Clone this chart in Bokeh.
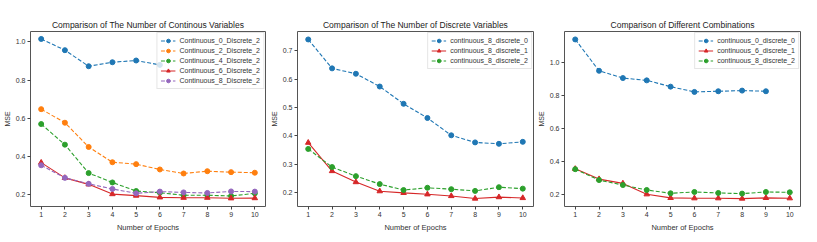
from bokeh.plotting import figure
from bokeh.layouts import row
from bokeh.models import Range1d, FixedTicker, NumeralTickFormatter
from bokeh.embed import file_html
from bokeh.resources import INLINE

epochs = [1, 2, 3, 4, 5, 6, 7, 8, 9, 10]

# Panel 1: continuous variables
p1_title = "Comparison of The Number of Continous Variables"
c0_d2 = [1.016, 0.957, 0.873, 0.894, 0.903, 0.880]
c2_d2 = [0.648, 0.577, 0.450, 0.370, 0.360, 0.332, 0.311, 0.323, 0.318, 0.315]
c4_d2 = [0.570, 0.462, 0.313, 0.264, 0.219, 0.210, 0.197, 0.197, 0.193, 0.207]
c6_d2 = [0.368, 0.288, 0.254, 0.203, 0.195, 0.186, 0.184, 0.184, 0.181, 0.182]
c8_d2 = [0.354, 0.288, 0.257, 0.230, 0.207, 0.216, 0.212, 0.209, 0.217, 0.216]

# Panel 2: discrete variables
p2_title = "Comparison of The Number of Discrete Variables"
c8_d0 = [0.740, 0.638, 0.619, 0.574, 0.513, 0.463, 0.402, 0.377, 0.372, 0.379]
c8_d1 = [0.376, 0.276, 0.237, 0.205, 0.199, 0.194, 0.188, 0.179, 0.184, 0.181]
c8_d2b = [0.354, 0.290, 0.258, 0.230, 0.209, 0.217, 0.212, 0.206, 0.219, 0.214]

# Panel 3: combinations
p3_title = "Comparison of Different Combinations"
c0_d0 = [1.140, 0.950, 0.906, 0.892, 0.854, 0.822, 0.826, 0.830, 0.826]
c6_d1 = [0.356, 0.294, 0.268, 0.202, 0.180, 0.178, 0.178, 0.176, 0.180, 0.178]
c8_d2c = [0.354, 0.288, 0.258, 0.228, 0.208, 0.216, 0.210, 0.206, 0.216, 0.214]

y_ticks1 = [0.2, 0.4, 0.6, 0.8, 1.0]
y_ticks2 = [0.2, 0.3, 0.4, 0.5, 0.6, 0.7]
y_ticks3 = [0.2, 0.4, 0.6, 0.8, 1.0]

BLUE, ORANGE, GREEN, RED, PURPLE = "#1f77b4", "#ff7f0e", "#2ca02c", "#d62728", "#9467bd"
FONT = "Liberation Sans"


def make_fig(title, yr, yticks, bl, br, fw):
    p = figure(title=title, output_backend="svg", toolbar_location=None,
               frame_width=fw, frame_height=175,
               min_border_left=bl, min_border_right=br, min_border_top=31,
               min_border_bottom=24, x_range=Range1d(0.55, 10.45), y_range=Range1d(*yr))
    p.title.align = "center"
    p.title.text_font = FONT
    p.title.text_font_size = "8.5px"
    p.title.text_font_style = "normal"
    p.title.text_color = "#222222"
    p.title.standoff = 3
    p.grid.visible = False
    p.outline_line_color = "#555555"
    p.outline_line_width = 1
    p.background_fill_color = "white"
    p.border_fill_color = "white"
    for ax in (p.xaxis[0], p.yaxis[0]):
        ax.axis_line_color = None
        ax.major_tick_in = 0
        ax.major_tick_out = 3
        ax.major_tick_line_color = "#444444"
        ax.minor_tick_line_color = None
        ax.major_label_text_font = FONT
        ax.major_label_text_font_size = "7px"
        ax.major_label_text_color = "#333333"
        ax.axis_label_text_font = FONT
        ax.axis_label_text_font_style = "normal"
        ax.axis_label_text_color = "#333333"
        ax.major_label_standoff = 2
    p.xaxis.axis_label_text_font_size = "7.5px"
    p.xaxis.axis_label_standoff = 3
    p.yaxis.axis_label_text_font_size = "7px"
    p.yaxis.axis_label_standoff = 2
    p.xaxis.ticker = FixedTicker(ticks=epochs)
    p.yaxis.ticker = FixedTicker(ticks=yticks)
    p.yaxis.formatter = NumeralTickFormatter(format="0.0")
    p.xaxis.axis_label = "Number of Epochs"
    p.yaxis.axis_label = "MSE"
    return p


def add_series(p, xs, ys, color, label, solid=False):
    dash = "solid" if solid else "4 2"
    p.line(xs, ys, line_color=color, line_width=1.1, line_dash=dash, legend_label=label)
    marker = "triangle" if solid else "circle"
    p.scatter(xs, ys, marker=marker, size=5.5 if solid else 5, fill_color=color,
              line_color=color, legend_label=label)


def style_legend(p):
    lg = p.legend[0]
    lg.location = "top_right"
    lg.margin = 1
    lg.padding = 3
    lg.spacing = 1
    lg.label_height = 9
    lg.glyph_height = 9
    lg.glyph_width = 15
    lg.label_standoff = 4
    lg.label_text_font = FONT
    lg.label_text_font_size = "7px"
    lg.label_text_color = "#333333"
    lg.border_line_color = "#cccccc"
    lg.border_line_width = 1
    lg.background_fill_alpha = 0.8


p1 = make_fig(p1_title, (0.138, 1.055), y_ticks1, 23, 1, 235)
add_series(p1, epochs[:len(c0_d2)], c0_d2, BLUE, "Continuous_0_Discrete_2")
add_series(p1, epochs, c2_d2, ORANGE, "Continuous_2_Discrete_2")
add_series(p1, epochs, c4_d2, GREEN, "Continuous_4_Discrete_2")
add_series(p1, epochs, c6_d2, RED, "Continuous_6_Discrete_2", solid=True)
add_series(p1, epochs, c8_d2, PURPLE, "Continuous_8_Discrete_2")
style_legend(p1)

p2 = make_fig(p2_title, (0.151, 0.768), y_ticks2, 31, 1, 236)
add_series(p2, epochs, c8_d0, BLUE, "continuous_8_discrete_0")
add_series(p2, epochs, c8_d1, RED, "continuous_8_discrete_1", solid=True)
add_series(p2, epochs, c8_d2b, GREEN, "continuous_8_discrete_2")
style_legend(p2)

p3 = make_fig(p3_title, (0.128, 1.188), y_ticks3, 23, 9, 236)
add_series(p3, epochs[:len(c0_d0)], c0_d0, BLUE, "continuous_0_discrete_0")
add_series(p3, epochs, c6_d1, RED, "continuous_6_discrete_1", solid=True)
add_series(p3, epochs, c8_d2c, GREEN, "continuous_8_discrete_2")
style_legend(p3)

layout = row(p1, p2, p3)
open("out.html", "w").write(file_html(layout, INLINE))
